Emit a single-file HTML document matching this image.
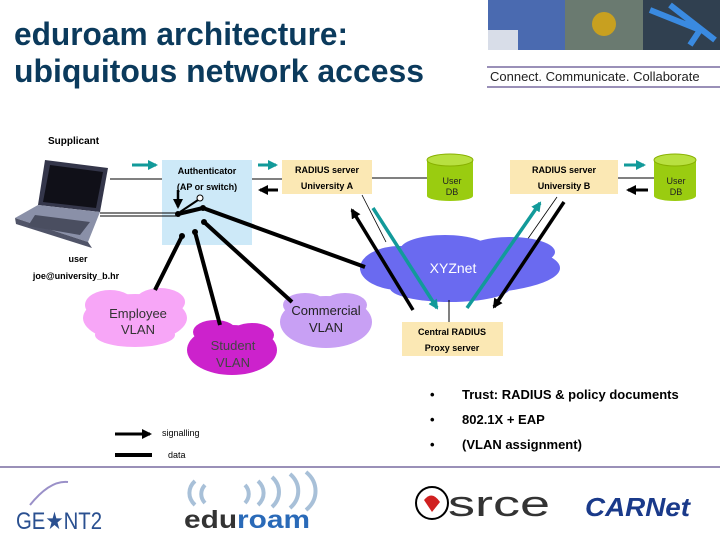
<!DOCTYPE html>
<html><head><meta charset="utf-8"><style>
html,body{margin:0;padding:0;background:#fff}
svg{display:block}
text{font-family:"Liberation Sans",sans-serif}
</style></head><body>
<svg width="720" height="540" viewBox="0 0 720 540" xmlns="http://www.w3.org/2000/svg">
<defs>
<marker id="ab" markerWidth="10" markerHeight="10" refX="8" refY="5" orient="auto" markerUnits="userSpaceOnUse"><path d="M0,0 L10,5 L0,10 z" fill="#000"/></marker>
<marker id="at" markerWidth="10" markerHeight="10" refX="8" refY="5" orient="auto" markerUnits="userSpaceOnUse"><path d="M0,0 L10,5 L0,10 z" fill="#129a9a"/></marker>
</defs>
<!-- header -->
<text x="14" y="45" font-size="32" font-weight="bold" fill="#0b3a5c" textLength="334" lengthAdjust="spacingAndGlyphs">eduroam architecture:</text>
<text x="14" y="82" font-size="32" font-weight="bold" fill="#0b3a5c" textLength="410" lengthAdjust="spacingAndGlyphs">ubiquitous network access</text>
<rect x="488" y="0" width="77" height="50" fill="#4a6ab0"/>
<rect x="488" y="30" width="30" height="20" fill="#d8dde8"/>
<rect x="565" y="0" width="78" height="50" fill="#6a7a70"/>
<circle cx="604" cy="24" r="12" fill="#c8a020"/>
<rect x="643" y="0" width="77" height="50" fill="#304050"/>
<path d="M650,10 L700,30 L690,45 M670,5 L715,40" stroke="#3a8ae0" stroke-width="6" fill="none"/>
<rect x="487" y="66" width="233" height="2" fill="#9a90b8"/>
<rect x="487" y="86" width="233" height="2" fill="#9a90b8"/>
<text x="490" y="81" font-size="13" fill="#222">Connect. Communicate. Collaborate</text>
<!-- supplicant -->
<text x="48" y="144" font-size="10" font-weight="bold" fill="#000">Supplicant</text>
<path d="M45,160 L108,168 L100,212 L38,205 z" fill="#34364a"/>
<path d="M50,165 L103,172 L96,208 L43,202 z" fill="#101018"/>
<path d="M15,218 L38,205 L100,212 L88,242 z" fill="#8a90a8"/>
<path d="M15,218 L88,242 L92,248 L16,224 z" fill="#505468"/>
<path d="M35,215 L90,222 L80,235 L28,226 z" fill="#4a4e60"/>
<text x="78" y="262" font-size="9" font-weight="bold" text-anchor="middle">user</text>
<text x="76" y="279" font-size="9" font-weight="bold" text-anchor="middle">joe@university_b.hr</text>
<!-- authenticator -->
<rect x="162" y="160" width="90" height="85" fill="#cde9f8"/>
<text x="207" y="174" font-size="9" font-weight="bold" text-anchor="middle">Authenticator</text>
<text x="207" y="190" font-size="9" font-weight="bold" text-anchor="middle">(AP or switch)</text>
<!-- radius A -->
<rect x="282" y="160" width="90" height="34" fill="#fbe8b4"/>
<text x="327" y="173" font-size="9" font-weight="bold" text-anchor="middle">RADIUS server</text>
<text x="327" y="189" font-size="9" font-weight="bold" text-anchor="middle">University A</text>
<!-- DB A -->
<rect x="427" y="160" width="46" height="36" fill="#9acc10"/>
<ellipse cx="450" cy="196" rx="23" ry="5" fill="#9acc10"/>
<ellipse cx="450" cy="160" rx="23" ry="6" fill="#b8e040" stroke="#88b000"/>
<text x="452" y="184" font-size="9" text-anchor="middle" fill="#222">User</text>
<text x="452" y="195" font-size="9" text-anchor="middle" fill="#222">DB</text>
<!-- radius B -->
<rect x="510" y="160" width="108" height="34" fill="#fbe8b4"/>
<text x="564" y="173" font-size="9" font-weight="bold" text-anchor="middle">RADIUS server</text>
<text x="564" y="189" font-size="9" font-weight="bold" text-anchor="middle">University B</text>
<!-- DB B -->
<rect x="654" y="160" width="42" height="36" fill="#9acc10"/>
<ellipse cx="675" cy="196" rx="21" ry="5" fill="#9acc10"/>
<ellipse cx="675" cy="160" rx="21" ry="6" fill="#b8e040" stroke="#88b000"/>
<text x="676" y="184" font-size="9" text-anchor="middle" fill="#222">User</text>
<text x="676" y="195" font-size="9" text-anchor="middle" fill="#222">DB</text>
<!-- thin connections -->
<line x1="110" y1="179" x2="162" y2="179" stroke="#000"/>
<line x1="252" y1="179" x2="282" y2="179" stroke="#000"/>
<line x1="372" y1="178" x2="427" y2="178" stroke="#000"/>
<line x1="618" y1="178" x2="654" y2="178" stroke="#000"/>
<line x1="100" y1="213" x2="178" y2="213" stroke="#000"/>
<line x1="100" y1="216" x2="178" y2="216" stroke="#000"/>
<line x1="362" y1="195" x2="386" y2="242" stroke="#000" stroke-width="0.8"/>
<line x1="557" y1="197" x2="527" y2="240" stroke="#000" stroke-width="0.8"/>
<!-- XYZnet cloud -->
<g fill="#6a6af0">
<ellipse cx="460" cy="268" rx="100" ry="26"/>
<ellipse cx="400" cy="268" rx="40" ry="22"/>
<ellipse cx="445" cy="250" rx="45" ry="15"/>
<ellipse cx="510" cy="252" rx="45" ry="15"/>
<ellipse cx="450" cy="288" rx="60" ry="14"/>
</g>
<text x="453" y="273" font-size="14" fill="#fff" text-anchor="middle">XYZnet</text>
<line x1="449" y1="300" x2="449" y2="322" stroke="#000"/>
<rect x="402" y="322" width="101" height="34" fill="#fbe8b4"/>
<text x="452" y="335" font-size="9" font-weight="bold" text-anchor="middle">Central RADIUS</text>
<text x="452" y="351" font-size="9" font-weight="bold" text-anchor="middle">Proxy server</text>
<!-- VLAN clouds -->
<g fill="#f7a6f7">
<ellipse cx="135" cy="318" rx="52" ry="24"/><ellipse cx="110" cy="305" rx="25" ry="15"/><ellipse cx="160" cy="302" rx="25" ry="14"/><ellipse cx="135" cy="335" rx="40" ry="12"/>
</g>
<text x="138" y="318" font-size="13" text-anchor="middle" fill="#333">Employee</text>
<text x="138" y="334" font-size="13" text-anchor="middle" fill="#333">VLAN</text>
<g fill="#cc22cc">
<ellipse cx="232" cy="350" rx="45" ry="25"/><ellipse cx="215" cy="332" rx="22" ry="12"/><ellipse cx="252" cy="335" rx="22" ry="12"/>
</g>
<text x="233" y="350" font-size="13" text-anchor="middle" fill="#444">Student</text>
<text x="233" y="367" font-size="13" text-anchor="middle" fill="#444">VLAN</text>
<g fill="#c8a0f4">
<ellipse cx="326" cy="322" rx="46" ry="26"/><ellipse cx="305" cy="305" rx="22" ry="12"/><ellipse cx="345" cy="305" rx="22" ry="12"/>
</g>
<text x="326" y="315" font-size="13" text-anchor="middle" fill="#222">Commercial</text>
<text x="326" y="332" font-size="13" text-anchor="middle" fill="#222">VLAN</text>
<!-- thick data lines -->
<g stroke="#000" stroke-width="4" fill="none">
<line x1="182" y1="236" x2="155" y2="290"/>
<line x1="195" y1="232" x2="220" y2="325"/>
<line x1="204" y1="222" x2="292" y2="302"/>
<line x1="203" y1="208" x2="365" y2="267"/>
<line x1="178" y1="214" x2="203" y2="208"/>
</g>
<g fill="#000"><circle cx="182" cy="236" r="3"/><circle cx="195" cy="232" r="3"/><circle cx="204" cy="222" r="3"/><circle cx="203" cy="208" r="3"/><circle cx="178" cy="214" r="3"/></g>
<line x1="180" y1="212" x2="198" y2="200" stroke="#000" stroke-width="2"/>
<circle cx="200" cy="198" r="3" fill="#fff" stroke="#000"/>
<!-- signalling arrows -->
<line x1="132" y1="165" x2="156" y2="165" stroke="#129a9a" stroke-width="3" marker-end="url(#at)"/>
<line x1="258" y1="165" x2="276" y2="165" stroke="#129a9a" stroke-width="3" marker-end="url(#at)"/>
<line x1="278" y1="190" x2="260" y2="190" stroke="#000" stroke-width="3" marker-end="url(#ab)"/>
<line x1="178" y1="190" x2="178" y2="207" stroke="#000" stroke-width="2.5" marker-end="url(#ab)"/>
<line x1="624" y1="165" x2="644" y2="165" stroke="#129a9a" stroke-width="3" marker-end="url(#at)"/>
<line x1="648" y1="190" x2="628" y2="190" stroke="#000" stroke-width="3" marker-end="url(#ab)"/>
<line x1="413" y1="310" x2="352" y2="210" stroke="#000" stroke-width="3.5" marker-end="url(#ab)"/>
<line x1="373" y1="208" x2="437" y2="308" stroke="#129a9a" stroke-width="3.5" marker-end="url(#at)"/>
<line x1="467" y1="308" x2="540" y2="203" stroke="#129a9a" stroke-width="3.5" marker-end="url(#at)"/>
<line x1="564" y1="202" x2="494" y2="307" stroke="#000" stroke-width="3.5" marker-end="url(#ab)"/>
<!-- bullets -->
<g font-size="13" font-weight="bold" fill="#000">
<text x="430" y="399">•</text><text x="462" y="399">Trust: RADIUS &amp; policy documents</text>
<text x="430" y="424">•</text><text x="462" y="424">802.1X + EAP</text>
<text x="430" y="449">•</text><text x="462" y="449">(VLAN assignment)</text>
</g>
<!-- legend -->
<line x1="115" y1="434" x2="150" y2="434" stroke="#000" stroke-width="3" marker-end="url(#ab)"/>
<line x1="115" y1="455" x2="152" y2="455" stroke="#000" stroke-width="4"/>
<text x="162" y="436" font-size="9">signalling</text>
<text x="168" y="458" font-size="9">data</text>
<!-- footer -->
<rect x="0" y="466" width="720" height="2" fill="#9a90b8"/>
<path d="M30,505 Q50,480 68,482" stroke="#9a90c8" stroke-width="2" fill="none"/>
<text x="16" y="529" font-size="24" font-family="Liberation Serif" fill="#2a5090" textLength="86" lengthAdjust="spacingAndGlyphs">GE★NT2</text>
<path d="M205,503 a16,14 0 0 1 0,-18 M195,505 a22,18 0 0 1 0,-24 M245,503 a16,14 0 0 0 0,-18 M258,505 a22,18 0 0 0 0,-24 M272,507 a26,22 0 0 0 0,-30 M290,508 a28,24 0 0 0 0,-34 M306,510 a30,26 0 0 0 0,-38" stroke="#a8c0d8" stroke-width="4" fill="none"/>
<text x="184" y="528" font-size="25" font-weight="bold" fill="#333" textLength="126" lengthAdjust="spacingAndGlyphs">edu<tspan fill="#2a6ab8">roam</tspan></text>
<circle cx="432" cy="503" r="16" fill="none" stroke="#000" stroke-width="2"/>
<path d="M424,500 q8,-10 16,2 l-8,10 z" fill="#d02020"/>
<text x="448" y="516" font-size="36" fill="#333" textLength="102" lengthAdjust="spacingAndGlyphs">srce</text>
<text x="585" y="516" font-size="26" font-weight="bold" font-style="italic" fill="#1a3a8a" textLength="105" lengthAdjust="spacingAndGlyphs">CARNet</text>
</svg>
</body></html>
